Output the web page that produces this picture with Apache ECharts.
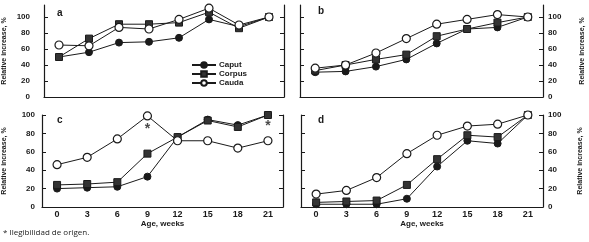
<!DOCTYPE html>
<html>
<head>
<meta charset="utf-8">
<script src="https://cdn.jsdelivr.net/npm/echarts@6/dist/echarts.min.js"></script>
<style>
  html, body { margin: 0; padding: 0; background: #fff; }
  #chart { width: 589px; height: 242px; }
</style>
</head>
<body>
<div id="chart"></div>
<script>
var weeks = ['0', '3', '6', '9', '12', '15', '18', '21'];
var yTicks = [0, 20, 40, 60, 80, 100];

// panel a
var caputA  = [50, 56, 68, 69, 74, 97, 88, 100];
var corpusA = [50, 73, 91, 91, 93, 106, 86, 100];
var caudaA  = [65, 64, 87, 85, 97, 111, 90, 100];
// panel b
var caputB  = [31, 32, 38, 47, 67, 85, 87, 100];
var corpusB = [33, 40, 47, 53, 76, 85, 93, 100];
var caudaB  = [36, 40, 55, 73, 91, 97, 103, 100];
// panel c
var caputC  = [20, 21, 22, 33, 76, 95, 89, 100];
var corpusC = [24, 25, 27, 58, 76, 94, 87, 100];
var caudaC  = [46, 54, 74, 99, 72, 72, 64, 72];
var starsC  = [['9', 89], ['21', 92]];
// panel d
var caputD  = [3, 3, 3, 9, 44, 72, 69, 100];
var corpusD = [5, 6, 7, 24, 52, 78, 76, 100];
var caudaD  = [14, 18, 32, 58, 78, 88, 90, 100];

var FONT = '"Liberation Sans", Arial, sans-serif';
var INK = '#1a1a1a';
var yName = 'Relative increase, %';

var chart = echarts.init(document.getElementById('chart'));

var grids = [
    { left: 42, top: 5, width: 242, height: 92 },
    { left: 300, top: 5, width: 243, height: 92 },
    { left: 42, top: 115, width: 241, height: 92 },
    { left: 301, top: 115, width: 242, height: 92 }
];

var xAxes = [], yAxes = [], series = [];

function makeX(i, labels) {
    return {
        type: 'category', gridIndex: i, data: weeks, boundaryGap: true,
        axisLine: { lineStyle: { color: INK, width: 1.2 } },
        axisTick: { inside: true, length: 3, alignWithLabel: true, lineStyle: { color: INK } },
        axisLabel: { show: labels, color: INK, fontFamily: FONT, fontSize: 9, fontWeight: 'bold', margin: 3 },
        name: labels ? 'Age, weeks' : '', nameLocation: 'middle', nameGap: 13,
        nameTextStyle: { color: INK, fontFamily: FONT, fontSize: 8, fontWeight: 'bold' },
        splitLine: { show: false }
    };
}

function makeY(i, pos, max, labels, named, margin, gap) {
    return {
        type: 'value', gridIndex: i, position: pos, min: 0, max: max, interval: 20,
        axisLine: { show: true, onZero: false, lineStyle: { color: INK, width: 1.2 } },
        axisTick: { show: true, inside: true, length: 4, customValues: yTicks, lineStyle: { color: INK } },
        axisLabel: { show: labels, customValues: yTicks, color: INK, fontFamily: FONT, fontSize: 8, fontWeight: 'bold', margin: margin },
        name: named ? yName : '', nameLocation: 'middle', nameRotate: 90, nameGap: gap,
        nameTextStyle: { color: INK, fontFamily: FONT, fontSize: 7, fontWeight: 'bold' },
        splitLine: { show: false }
    };
}

function addPanel(i, caput, corpus, cauda, labelSide, max, xLabels, margin, gap) {
    xAxes.push(makeX(i, xLabels));
    var other = labelSide === 'left' ? 'right' : 'left';
    var yMain = yAxes.length;
    yAxes.push(makeY(i, labelSide, max, true, true, margin, gap));
    yAxes.push(makeY(i, other, max, false, false, 5, 0));
    var base = { type: 'line', xAxisIndex: i, yAxisIndex: yMain, animation: false,
                 lineStyle: { color: INK, width: 1 }, symbolSize: 7 };
    series.push(Object.assign({}, base, { name: 'Caput', data: caput, symbol: 'circle',
        itemStyle: { color: INK, borderColor: INK, borderWidth: 1 } }));
    series.push(Object.assign({}, base, { name: 'Corpus', data: corpus, symbol: 'rect',
        itemStyle: { color: '#333', borderColor: INK, borderWidth: 1 } }));
    series.push(Object.assign({}, base, { name: 'Cauda', data: cauda, symbol: 'circle', symbolSize: 8,
        itemStyle: { color: '#fff', borderColor: INK, borderWidth: 1.2 } }));
}

addPanel(0, caputA, corpusA, caudaA, 'left', 115, false, 14, 36);
addPanel(1, caputB, corpusB, caudaB, 'right', 115, false, 5, 36);
addPanel(2, caputC, corpusC, caudaC, 'left', 100, true, 7, 34);
addPanel(3, caputD, corpusD, caudaD, 'right', 100, true, 5, 34);

// significance marks in panel c
series.push({
    type: 'scatter', xAxisIndex: 2, yAxisIndex: 4, data: starsC, symbolSize: 0,
    silent: true, animation: false,
    label: { show: true, formatter: '*', color: INK, fontSize: 14, fontWeight: 'bold', fontFamily: FONT, offset: [0, 4] }
});

function letter(txt, x, y) {
    return { type: 'text', left: x, top: y,
             style: { text: txt, fill: INK, font: 'bold 10px ' + FONT } };
}

chart.setOption({
    backgroundColor: '#fff',
    animation: false,
    grid: grids,
    xAxis: xAxes,
    yAxis: yAxes,
    legend: {
        data: ['Caput', 'Corpus', 'Cauda'],
        orient: 'vertical', left: 186, top: 56,
        itemWidth: 24, itemHeight: 7, itemGap: 1,
        textStyle: { color: INK, fontFamily: FONT, fontSize: 8, fontWeight: 'bold', padding: [0, 0, 0, -2] },
        selectedMode: false
    },
    graphic: [
        letter('a', 57, 8),
        letter('b', 318, 6),
        letter('c', 57, 115),
        letter('d', 318, 115),
        { type: 'text', left: 3, top: 229,
          style: { text: '* Ilegibilidad de origen.', fill: '#222', font: '8px "Open Sans", sans-serif' } }
    ],
    series: series
});
</script>
</body>
</html>
